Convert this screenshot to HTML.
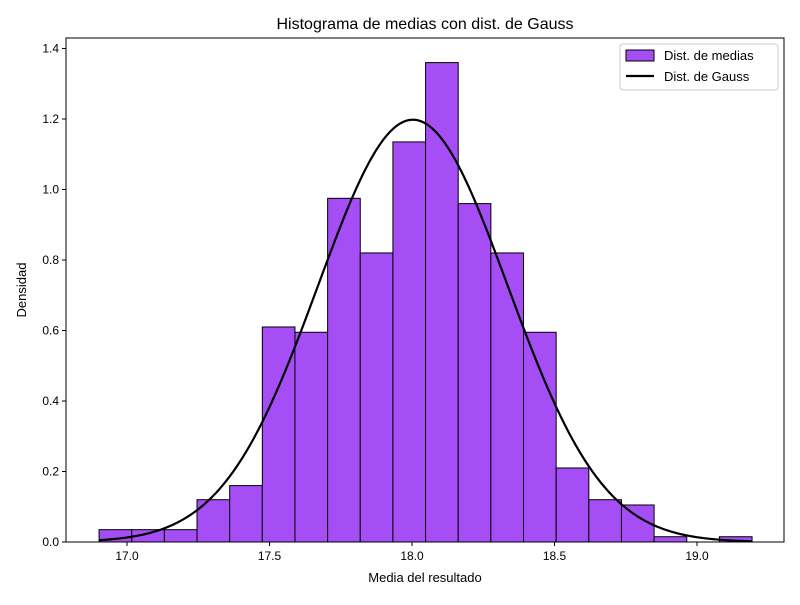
<!DOCTYPE html>
<html><head><meta charset="utf-8"><style>
body{margin:0;background:#fff;font-family:"Liberation Sans","DejaVu Sans",sans-serif;}
</style></head><body>
<svg id="chart" width="800" height="600" xmlns="http://www.w3.org/2000/svg"></svg>
<script>
const binStart = 16.902;
const binWidth = 0.11456;
const densities = [0.035,0.035,0.035,0.12,0.16,0.61,0.595,0.975,0.82,1.135,1.36,0.96,0.82,0.595,0.21,0.12,0.105,0.015,0,0.015];
const gaussMean = 18.003;
const gaussSigma = 0.333;
const xTicks = [17.0,17.5,18.0,18.5,19.0];
const yTicks = [0.0,0.2,0.4,0.6,0.8,1.0,1.2,1.4];

const L=66,R=784,T=38,B=542;
const X=v=>412+(v-18)*285;
const Y=v=>B-v*352.5;
const svg=document.getElementById('chart');
const NS='http://www.w3.org/2000/svg';
function mk(tag,attrs,parent){const e=document.createElementNS(NS,tag);for(const k in attrs)e.setAttribute(k,attrs[k]);(parent||svg).appendChild(e);return e;}

densities.forEach((d,i)=>{
  const x0=X(binStart+i*binWidth),x1=X(binStart+(i+1)*binWidth);
  const r=mk('rect',{x:x0,y:Y(d),width:x1-x0,height:B-Y(d),fill:'#a54ef5',stroke:'#000','stroke-width':1});
  
  
});
const xmin=binStart,xmax=binStart+densities.length*binWidth;
let pts=[];
for(let i=0;i<=200;i++){const x=xmin+(xmax-xmin)*i/200;const y=Math.exp(-0.5*((x-gaussMean)/gaussSigma)**2)/(gaussSigma*Math.sqrt(2*Math.PI));pts.push(X(x).toFixed(2)+','+Y(y).toFixed(2));}
const line=mk('polyline',{points:pts.join(' '),fill:'none',stroke:'#000','stroke-width':2.2});



const frame=mk('rect',{x:L,y:T,width:R-L,height:B-T,fill:'none',stroke:'#000','stroke-width':1});



xTicks.forEach(t=>{
  mk('line',{x1:X(t),x2:X(t),y1:B,y2:B+4,stroke:'#000'});
  const tx=mk('text',{x:X(t),y:B+18,'text-anchor':'middle','font-size':12});tx.textContent=t.toFixed(1);
  
  
});
yTicks.forEach(t=>{
  mk('line',{x1:L-4,x2:L,y1:Y(t),y2:Y(t),stroke:'#000'});
  const tx=mk('text',{x:L-7,y:Y(t)+4,'text-anchor':'end','font-size':12});tx.textContent=t.toFixed(1);
  
  
});
</script>
<svg width="800" height="600" style="position:absolute;left:0;top:0" xmlns="http://www.w3.org/2000/svg">
<text x="425" y="29" text-anchor="middle" font-size="16">Histograma de medias con dist. de Gauss</text>
<text x="425" y="582" text-anchor="middle" font-size="13">Media del resultado</text>
<text x="26" y="290" text-anchor="middle" font-size="13" transform="rotate(-90 26 290)">Densidad</text>
<g>
<rect x="620" y="44" width="158" height="46" rx="3" fill="#fff" fill-opacity="0.8" stroke="#ccc"/>
<rect x="626" y="50" width="28" height="11" fill="#a54ef5" stroke="#000"/>
<text x="664" y="60" font-size="13">Dist. de medias</text>
<line x1="626" x2="654" y1="76" y2="76" stroke="#000" stroke-width="2.2"/>
<text x="664" y="81" font-size="13">Dist. de Gauss</text>
</g>
</svg>
</body></html>
